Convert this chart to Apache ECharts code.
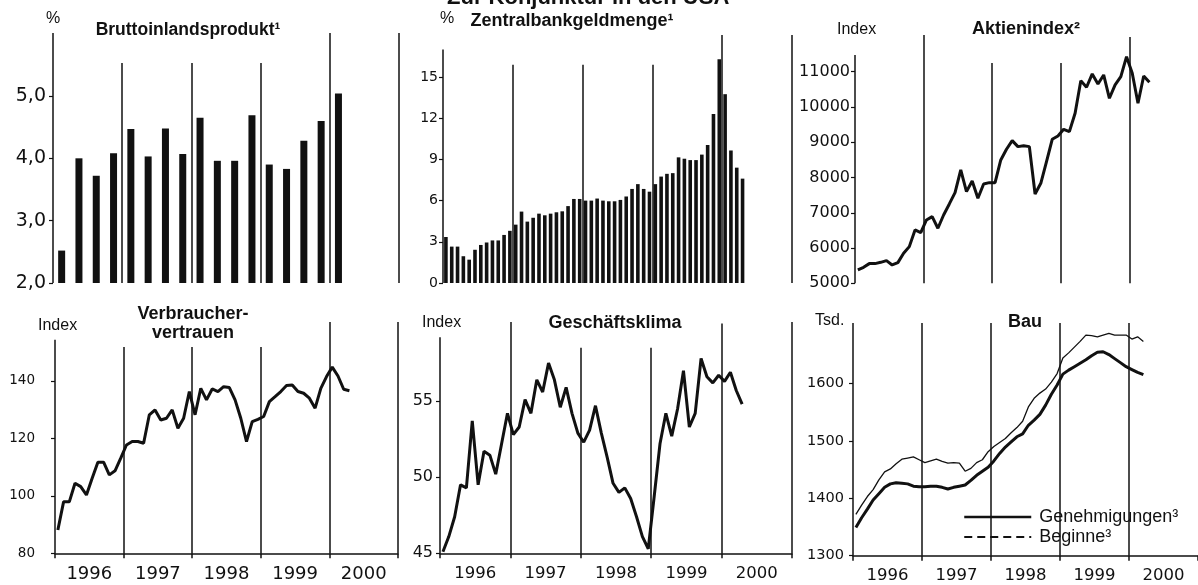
<!DOCTYPE html>
<html><head><meta charset="utf-8">
<script src="https://cdn.jsdelivr.net/npm/echarts@6/dist/echarts.min.js"></script>
<style>html,body{margin:0;padding:0;background:#fff}#c{width:1198px;height:585px}</style>
</head><body><div id="c"></div>
<script>
// ---------- data ----------
const years = ['1996', '1997', '1998', '1999', '2000'];
const bipQuarterly = [2.52, 4.0, 3.72, 4.08, 4.47, 4.03, 4.48, 4.07, 4.65, 3.96, 3.96, 4.69, 3.9, 3.83, 4.28, 4.6, 5.04];
const zbgMonthly = [3.35, 2.65, 2.65, 1.95, 1.7, 2.42, 2.77, 2.95, 3.1, 3.1, 3.5, 3.8,
  4.25, 5.2, 4.47, 4.75, 5.05, 4.93, 5.05, 5.15, 5.22, 5.6, 6.12, 6.12,
  6.0, 6.0, 6.15, 6.0, 5.95, 5.95, 6.05, 6.3, 6.85, 7.2, 6.85, 6.65,
  7.2, 7.75, 7.95, 8.0, 9.15, 9.05, 8.95, 8.95, 9.35, 10.05, 12.3, 16.3,
  13.75, 9.65, 8.4, 7.6];
const aktienMonthly = [5378, 5454, 5558, 5558, 5595, 5643, 5520, 5586, 5850, 6040, 6512, 6437,
  6796, 6890, 6560, 6937, 7250, 7570, 8213, 7600, 7900, 7410, 7817, 7854,
  7854, 8497, 8800, 9045, 8875, 8900, 8875, 7533, 7835, 8450, 9083, 9178,
  9366, 9300, 9820, 10746, 10558, 10936, 10652, 10907, 10246, 10624, 10860, 11427,
  10955, 10104, 10879, 10700];
const verbraucherMonthly = [88.1, 97.9, 97.9, 104.4, 103.2, 100.3, 106.1, 111.7, 111.7, 107.3, 108.7, 113.1,
  117.7, 118.9, 118.9, 118.3, 128.2, 129.9, 126.4, 127.0, 129.9, 123.5, 127.0, 136.3,
  128.2, 137.4, 133.4, 137.2, 136.3, 138.0, 137.7, 133.4, 127.0, 118.9, 125.8, 126.6,
  127.6, 132.8, 134.5, 136.3, 138.4, 138.6, 136.3, 135.7, 134.0, 130.5, 137.4, 141.5,
  144.8, 141.7, 137.1, 136.6];
const geschaeftsklimaMonthly = [45.1, 46.1, 47.4, 49.5, 49.3, 53.7, 49.5, 51.7, 51.45, 50.2, 52.2, 54.2,
  52.8, 53.3, 55.1, 54.2, 56.4, 55.6, 57.5, 56.4, 54.6, 55.9, 54.2, 52.9,
  52.3, 53.1, 54.7, 52.9, 51.3, 49.6, 49.0, 49.3, 48.6, 47.4, 46.1, 45.3,
  48.7, 52.2, 54.2, 52.7, 54.5, 57.0, 53.3, 54.2, 57.8, 56.6, 56.2, 56.7,
  56.3, 56.9, 55.7, 54.8];
const genehmigungenMonthly = [1349, 1366, 1381, 1397, 1408, 1419, 1425, 1427, 1426, 1425, 1421, 1420,
  1420, 1421, 1421, 1419, 1416, 1419, 1421, 1423, 1431, 1440, 1447, 1454,
  1465, 1478, 1489, 1498, 1507, 1512, 1527, 1536, 1546, 1562, 1581, 1597,
  1616, 1623, 1629, 1635, 1641, 1648, 1654, 1655, 1650, 1643, 1636, 1629,
  1624, 1619, 1615];
const beginneMonthly = [1372, 1388, 1403, 1415, 1432, 1446, 1451, 1460, 1468, 1470, 1472, 1467,
  1462, 1465, 1468, 1464, 1461, 1462, 1461, 1447, 1452, 1462, 1467, 1481,
  1490, 1497, 1504, 1514, 1523, 1534, 1559, 1574, 1583, 1590, 1602, 1617,
  1644, 1653, 1663, 1673, 1684, 1683, 1681, 1684, 1687, 1684, 1684, 1684,
  1677, 1681, 1673];
const ticksBip = [2, 3, 4, 5];
const ticksZbg = [0, 3, 6, 9, 12, 15];
const ticksAktien = [5000, 6000, 7000, 8000, 9000, 10000, 11000];
const ticksVerbraucher = [80, 100, 120, 140];
const ticksKlima = [45, 50, 55];
const ticksBau = [1300, 1400, 1500, 1600];
const yearBounds = [1996, 1997, 1998, 1999, 2000, 2001];

// ---------- helpers ----------
const T = '"Liberation Sans", Arial, sans-serif';
const N = '"DejaVu Sans", sans-serif';
const INK = '#111';
const firstYear = Number(years[0]);
const monthly = arr => arr.map((v, i) => [firstYear + (i + 0.5) / 12, v]);
const quarterly = arr => arr.map((v, i) => [firstYear + (i + 0.5) / 4, v]);
const yearMids = years.map(y => Number(y) + 0.5);

function vlines(ymin, tops) {
  const out = [];
  yearBounds.forEach((x, i) => {
    if (tops[i] == null) return;
    out.push([{ coord: [x, ymin] }, { coord: [x, tops[i]] }]);
  });
  return {
    silent: true, symbol: ['none', 'none'], label: { show: false },
    lineStyle: { color: INK, width: 1.5, type: 'solid' },
    emphasis: { disabled: true }, animation: false, data: out
  };
}

function xAxisTop(i) {
  return { type: 'value', gridIndex: i, min: 1996, max: 2001, show: false };
}
function xAxisBottom(i, fs) {
  return {
    type: 'value', gridIndex: i, min: 1996, max: 2001,
    axisLine: { show: true, onZero: false, lineStyle: { color: INK, width: 1.6 } },
    axisTick: { show: true, length: 5, customValues: yearBounds, lineStyle: { color: INK, width: 1.5 } },
    axisLabel: {
      show: true, customValues: yearMids, margin: 12, color: INK, fontFamily: N, fontSize: fs,
      formatter: v => years[Math.floor(v) - firstYear]
    },
    splitLine: { show: false }
  };
}
function yAxis(i, min, max, ticks, fs, margin, fmt) {
  return {
    type: 'value', gridIndex: i, min: min, max: max,
    axisLine: { show: false },
    axisTick: { show: true, length: 4, customValues: ticks, lineStyle: { color: INK, width: 1.2 } },
    axisLabel: { show: true, customValues: ticks, color: INK, fontFamily: N, fontSize: fs, margin: margin, formatter: fmt || (v => String(v)) },
    splitLine: { show: false }
  };
}
function txt(text, x, y, font, align) {
  return { type: 'text', x: x, y: y, silent: true, z: 10,
    style: { text: text, font: font, fill: INK, align: align || 'left', verticalAlign: 'middle',
             textAlign: align || 'left', textVerticalAlign: 'middle' } };
}
const BOLD = 'bold 18px ' + T;
const UNIT = '16px ' + T;

const option = {
  animation: false,
  backgroundColor: '#fff',
  color: [INK],
  grid: [
    { left: 53, top: 33, width: 346, height: 250 },
    { left: 443, top: 35, width: 349, height: 248 },
    { left: 855, top: 35, width: 344, height: 248.3 },
    { left: 55, top: 322, width: 343, height: 231.3 },
    { left: 440, top: 322, width: 352, height: 231.3 },
    { left: 853, top: 323, width: 346, height: 232.7 }
  ],
  xAxis: [xAxisTop(0), xAxisTop(1), xAxisTop(2), xAxisBottom(3, 18), xAxisBottom(4, 16.5), xAxisBottom(5, 16.5)],
  yAxis: [
    yAxis(0, 2, 6.01, ticksBip, 19, 7, v => v.toFixed(1).replace('.', ',')),
    yAxis(1, 0, 18.06, ticksZbg, 14, 5),
    yAxis(2, 5000, 12040, ticksAktien, 16, 5),
    yAxis(3, 80, 160.5, ticksVerbraucher, 13.5, 20),
    yAxis(4, 45, 60.2, ticksKlima, 16, 7),
    yAxis(5, 1300, 1705, ticksBau, 14.5, 9)
  ],
  legend: {
    orient: 'vertical', left: 957, top: 504, padding: [3, 30, 1, 6],
    backgroundColor: '#fff', itemWidth: 67, itemHeight: 14, itemGap: 0, selectedMode: false,
    itemStyle: { opacity: 0 },
    textStyle: { fontFamily: T, fontSize: 18, lineHeight: 20, color: INK, padding: [0, 0, 0, 3] },
    data: [
      { name: 'Genehmigungen³', itemStyle: { opacity: 0 }, lineStyle: { color: INK, width: 2.5, type: 'solid' } },
      { name: 'Beginne³', itemStyle: { opacity: 0 }, lineStyle: { color: INK, width: 2, type: [8, 5] } }
    ]
  },
  graphic: [
    txt('Zur Konjunktur in den USA', 447, -2, 'bold 22px ' + T),
    txt('%', 46, 19, UNIT),
    txt('Bruttoinlandsprodukt¹', 188, 30, 'bold 17.5px ' + T, 'center'),
    txt('%', 440, 19, UNIT),
    txt('Zentralbankgeldmenge¹', 572, 21, BOLD, 'center'),
    txt('Index', 837, 30, UNIT),
    txt('Aktienindex²', 1026, 29, BOLD, 'center'),
    txt('Index', 38, 326, UNIT),
    txt('Verbraucher-', 193, 314, BOLD, 'center'),
    txt('vertrauen', 193, 333, BOLD, 'center'),
    txt('Index', 422, 323, UNIT),
    txt('Geschäftsklima', 615, 323, BOLD, 'center'),
    txt('Tsd.', 815, 321, UNIT),
    txt('Bau', 1025, 322, BOLD, 'center')
  ],
  series: [
    { name: 'Bruttoinlandsprodukt', type: 'bar', xAxisIndex: 0, yAxisIndex: 0, barWidth: 7,
      itemStyle: { color: INK }, data: quarterly(bipQuarterly), clip: true,
      markLine: vlines(2, [6.01, 5.53, 5.53, 5.53, 6.01, 6.01]) },
    { name: 'Zentralbankgeldmenge', type: 'bar', xAxisIndex: 1, yAxisIndex: 1, barWidth: 3.6,
      itemStyle: { color: INK }, data: monthly(zbgMonthly), clip: true,
      markLine: vlines(0, [17, 15.9, 15.9, 15.9, 18.06, 18.06]) },
    { name: 'Aktienindex', type: 'line', xAxisIndex: 2, yAxisIndex: 2, symbol: 'none', z: 3,
      lineStyle: { color: INK, width: 3 }, data: monthly(aktienMonthly),
      markLine: vlines(5000, [11473, 12040, 11245, 11245, 11980, null]) },
    { name: 'Verbrauchervertrauen', type: 'line', xAxisIndex: 3, yAxisIndex: 3, symbol: 'none', z: 3,
      lineStyle: { color: INK, width: 3 }, data: monthly(verbraucherMonthly),
      markLine: vlines(80, [154.3, 151.8, 151.8, 151.8, 160.5, 160.5]) },
    { name: 'Geschäftsklima', type: 'line', xAxisIndex: 4, yAxisIndex: 4, symbol: 'none', z: 3,
      lineStyle: { color: INK, width: 3 }, data: monthly(geschaeftsklimaMonthly),
      markLine: vlines(45, [59.2, 60.2, 58.5, 58.5, 60.1, 60.2]) },
    { name: 'Genehmigungen³', type: 'line', xAxisIndex: 5, yAxisIndex: 5, symbol: 'none', z: 3,
      itemStyle: { color: INK }, lineStyle: { color: INK, width: 3 }, data: monthly(genehmigungenMonthly),
      markLine: vlines(1300, [1705, 1705, 1705, 1705, 1705, null]) },
    { name: 'Beginne³', type: 'line', xAxisIndex: 5, yAxisIndex: 5, symbol: 'none', z: 3,
      itemStyle: { color: INK }, lineStyle: { color: INK, width: 1.3 }, data: monthly(beginneMonthly) }
  ]
};
const chart = echarts.init(document.getElementById('c'), null, { renderer: 'canvas' });
chart.setOption(option);
</script></body></html>
